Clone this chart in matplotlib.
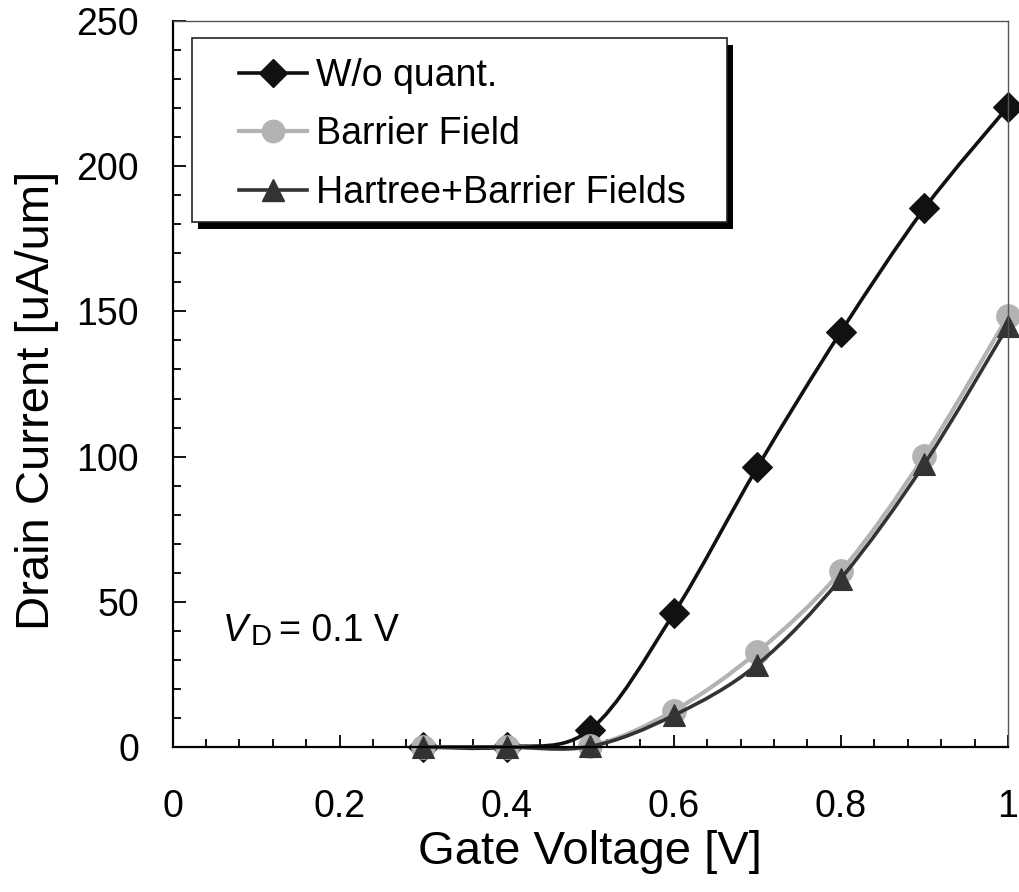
import matplotlib
matplotlib.use('Agg')
import matplotlib.pyplot as plt
from matplotlib.path import Path
from matplotlib.patches import PathPatch, Rectangle
from matplotlib.lines import Line2D
from matplotlib.ticker import MultipleLocator, FuncFormatter

plt.rcParams['font.family'] = ['Liberation Sans', 'DejaVu Sans']

# ---- data ----
gate_voltage = [0.3, 0.4, 0.5, 0.6, 0.7, 0.8, 0.9, 1.0]
wo_quant = [0.0, 0.0, 6.0, 46.0, 96.3, 143.0, 185.5, 220.5]
barrier_field = [0.0, 0.0, 0.3, 12.5, 32.7, 60.5, 100.3, 148.4]
hartree_barrier = [0.0, 0.0, 0.2, 10.9, 28.4, 58.0, 97.5, 145.0]
series_labels = ["W/o quant.", "Barrier Field", "Hartree+Barrier Fields"]
x_label = "Gate Voltage [V]"
y_label = "Drain Current [uA/um]"


def smooth_path(x, y):
    pts = list(zip(x, y))
    n = len(pts)
    verts = [pts[0]]
    codes = [Path.MOVETO]
    for i in range(n - 1):
        p0 = pts[i - 1] if i > 0 else pts[i]
        p1 = pts[i]
        p2 = pts[i + 1]
        p3 = pts[i + 2] if i + 2 < n else pts[i + 1]
        c1 = (p1[0] + (p2[0] - p0[0]) / 6.0, p1[1] + (p2[1] - p0[1]) / 6.0)
        c2 = (p2[0] - (p3[0] - p1[0]) / 6.0, p2[1] - (p3[1] - p1[1]) / 6.0)
        verts += [c1, c2, p2]
        codes += [Path.CURVE4] * 3
    return Path(verts, codes)


W, H = 1020, 892
fig = plt.figure(figsize=(W / 100, H / 100), dpi=100)
ax_l, ax_r, ax_t, ax_b = 172.5, 1008.0, 21.0, 747.0
ax = fig.add_axes([ax_l / W, 1 - ax_b / H, (ax_r - ax_l) / W, (ax_b - ax_t) / H])

styles = [
    dict(color='#111111', lw=2.6, marker='D', ms=15.0, mec='#111111'),
    dict(color='#b3b3b3', lw=3.0, marker='o', ms=17.0, mec='#b3b3b3'),
    dict(color='#333333', lw=2.6, marker='^', ms=16.5, mec='#333333'),
]
data = [wo_quant, barrier_field, hartree_barrier]

handles = []
for k, (ys, st) in enumerate(zip(data, styles)):
    patch = PathPatch(smooth_path(gate_voltage, ys), fill=False,
                      edgecolor=st['color'], lw=st['lw'],
                      transform=ax.transData, zorder=2 + k * 0.1,
                      capstyle='round', joinstyle='round')
    patch.set_clip_on(False)
    ax.add_patch(patch)
    ax.plot(gate_voltage, ys, linestyle='none', marker=st['marker'],
            ms=st['ms'], mfc=st['color'], mec=st['mec'], mew=0.8,
            zorder=2.05 + k * 0.1, clip_on=False)
    handles.append(Line2D([], [], color=st['color'], lw=st['lw'],
                          marker=st['marker'], ms=st['ms'] * 0.95,
                          mfc=st['color'], mec=st['mec']))

ax.set_xlim(0, 1)
ax.set_ylim(0, 250)
ax.xaxis.set_major_locator(MultipleLocator(0.2))
ax.xaxis.set_minor_locator(MultipleLocator(0.04))
ax.yaxis.set_major_locator(MultipleLocator(50))
ax.yaxis.set_minor_locator(MultipleLocator(10))
ax.xaxis.set_major_formatter(FuncFormatter(lambda v, p: '%g' % round(v, 3)))
ax.yaxis.set_major_formatter(FuncFormatter(lambda v, p: '%g' % v))

ax.tick_params(which='both', direction='in', top=False, right=False,
               width=1.3, colors='black')
ax.tick_params(which='major', length=9, labelsize=27)
ax.tick_params(which='minor', length=6)
ax.tick_params(axis='x', which='major', pad=30)
ax.tick_params(axis='y', which='major', pad=24)

for s in ['left', 'bottom']:
    ax.spines[s].set_linewidth(1.6)
    ax.spines[s].set_color('black')
for s in ['top', 'right']:
    ax.spines[s].set_linewidth(1.0)
    ax.spines[s].set_color('#555555')

ax.set_xlabel(x_label, fontsize=34)
ax.set_ylabel(y_label, fontsize=34)
ax.xaxis.set_label_coords(0.5, -0.114)
ax.yaxis.set_label_coords(-0.136, 0.478)

# legend frame with solid shadow
fx0, fx1, fy0, fy1 = 192, 727, 38, 222
def ax_x(px):
    return (px - ax_l) / (ax_r - ax_l)
def ax_y(py):
    return (ax_b - py) / (ax_b - ax_t)
shadow = Rectangle((ax_x(fx0 + 6), ax_y(fy1 + 7)), ax_x(fx1) - ax_x(fx0),
                   ax_y(fy0) - ax_y(fy1), transform=ax.transAxes,
                   facecolor='black', edgecolor='black', lw=0, zorder=5,
                   clip_on=False)
frame = Rectangle((ax_x(fx0), ax_y(fy1)), ax_x(fx1) - ax_x(fx0),
                  ax_y(fy0) - ax_y(fy1), transform=ax.transAxes,
                  facecolor='white', edgecolor='#222222', lw=1.2, zorder=5.5,
                  clip_on=False)
ax.add_patch(shadow)
ax.add_patch(frame)

leg = ax.legend(handles, series_labels, loc='upper left',
                bbox_to_anchor=(ax_x(239), ax_y(58)), frameon=False,
                borderpad=0, borderaxespad=0, handlelength=1.8,
                handletextpad=0.25, labelspacing=0.6, fontsize=27,
                numpoints=1)
leg.set_zorder(6)

# V_D annotation
fig.text(223 / W, 1 - 641 / H, 'V', fontsize=27, style='italic', va='baseline')
fig.text(251 / W, 1 - 645 / H, 'D', fontsize=21, va='baseline')
fig.text(279 / W, 1 - 641 / H, '= 0.1 V', fontsize=27, va='baseline')

fig.savefig('out.png', dpi=100)
